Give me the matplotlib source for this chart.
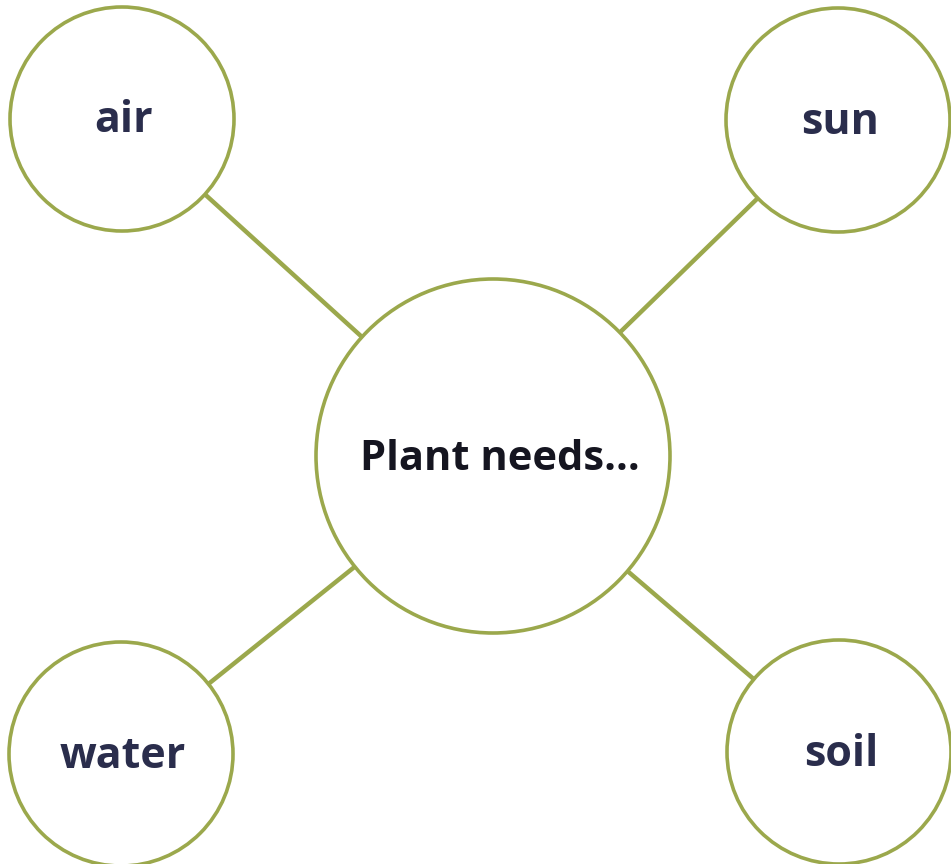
import matplotlib
matplotlib.use("Agg")
import matplotlib.pyplot as plt
from matplotlib.patches import Circle

center_label = "Plant needs..."
labels = ["air", "sun", "water", "soil"]

W, H = 951, 864
fig = plt.figure(figsize=(W / 100, H / 100), dpi=100)
ax = fig.add_axes([0, 0, 1, 1])
ax.set_xlim(0, W)
ax.set_ylim(H, 0)
ax.set_aspect("equal")
ax.axis("off")

green = "#9ba84c"
navy = "#2a2d4c"

cx, cy, cr = 493, 456, 177
node_xy = [(122, 119), (838, 120), (121, 754), (839, 752)]
node_r = 112

for (x, y) in node_xy:
    ax.plot([cx, x], [cy, y], color=green, lw=3.2, solid_capstyle="butt", zorder=1)

ax.add_patch(Circle((cx, cy), cr, facecolor="white", edgecolor=green, lw=2.6, zorder=2))
ax.text(cx + 7, cy + 3, center_label, ha="center", va="center", fontsize=30,
        fontweight="bold", color="#151520", family="Open Sans", zorder=3)

for (x, y), lab in zip(node_xy, labels):
    ax.add_patch(Circle((x, y), node_r, facecolor="white", edgecolor=green, lw=2.6, zorder=2))
    ax.text(x + 2, y + 2, lab, ha="center", va="center", fontsize=31,
            fontweight="bold", color=navy, family="Open Sans", zorder=3)

fig.savefig("out.png", dpi=100, facecolor="white")
